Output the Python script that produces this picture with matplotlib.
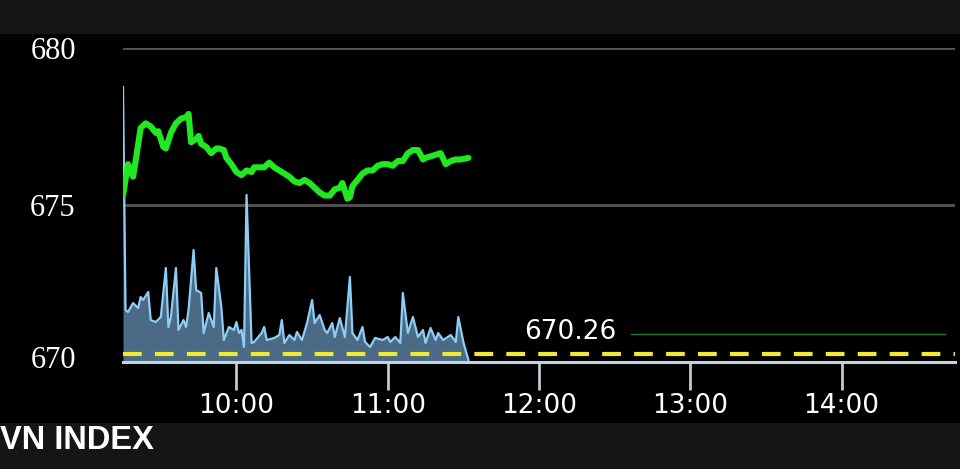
import matplotlib
matplotlib.use('Agg')
import matplotlib.pyplot as plt
from matplotlib.patches import Rectangle
from matplotlib.transforms import ScaledTranslation

# Phút kể từ 9:15 và giá trị chỉ số
price_t = [0, 2, 4, 5, 7, 9, 11, 13, 14, 16,
           17, 19, 21, 23, 25, 26, 27, 29, 30, 31,
           33, 35, 37, 38, 40, 41, 43, 45, 47, 49,
           51, 52, 53, 56, 58, 60, 62, 64, 66, 68,
           70, 72, 74, 76, 78, 80, 82, 84, 86, 87,
           89, 90, 91, 93, 95, 97, 99, 101, 103, 105,
           107, 109, 111, 113, 115, 117, 119, 120, 122, 124,
           126, 128, 130, 132, 134, 137]
price = [675.3, 676.3, 675.9, 676.4, 677.45, 677.6, 677.5, 677.3, 677.35, 676.85,
         676.8, 677.3, 677.6, 677.75, 677.8, 677.9, 677.0, 677.1, 677.2, 676.95,
         676.85, 676.65, 676.8, 676.8, 676.75, 676.5, 676.3, 676.05, 675.95, 676.1,
         676.05, 676.2, 676.2, 676.2, 676.35, 676.2, 676.1, 676.0, 675.9, 675.75,
         675.7, 675.8, 675.7, 675.55, 675.4, 675.3, 675.3, 675.5, 675.55, 675.7,
         675.2, 675.25, 675.6, 675.8, 676.0, 676.1, 676.1, 676.25, 676.3, 676.3,
         676.25, 676.4, 676.4, 676.65, 676.75, 676.75, 676.45, 676.5, 676.55, 676.6,
         676.65, 676.3, 676.4, 676.45, 676.45, 676.5]

# Khối lượng (đơn vị tương đối)
vol_t = [0, 1, 2, 4, 6, 7, 8, 10, 11, 13,
         15, 17, 18, 19, 21, 22, 24, 25, 26, 28,
         29, 31, 32, 34, 36, 37, 39, 40, 42, 44,
         45, 46, 47, 48, 49, 51, 52, 55, 56, 57,
         60, 62, 63, 64, 66, 68, 69, 71, 73, 75,
         76, 78, 80, 81, 83, 84, 86, 88, 90, 91,
         93, 95, 96, 98, 100, 103, 105, 106, 108, 110,
         111, 113, 115, 117, 119, 120, 122, 124, 125, 127,
         130, 132, 133, 135, 137]
vol = [275, 52, 50, 59, 54, 65, 62, 70, 42, 40,
       45, 94, 35, 45, 94, 32, 42, 35, 52, 112,
       72, 69, 29, 49, 35, 94, 55, 22, 35, 32,
       40, 29, 32, 15, 167, 19, 20, 29, 35, 22,
       24, 27, 42, 19, 27, 22, 30, 22, 39, 62,
       39, 47, 32, 29, 39, 25, 44, 25, 85, 29,
       22, 35, 20, 15, 24, 22, 25, 20, 25, 19,
       69, 29, 45, 25, 32, 19, 34, 22, 29, 22,
       27, 20, 45, 20, 2]

ref_price = 670.26
hour_ticks = [45, 105, 165, 225, 285]
hour_labels = ['10:00', '11:00', '12:00', '13:00', '14:00']
y_ticks = [670, 675, 680]

fig = plt.figure(figsize=(9.6, 4.69), dpi=100, facecolor='black')
# dải xám trên và dưới
fig.patches.append(Rectangle((0, 1 - 34/469), 1, 34/469, transform=fig.transFigure,
                             facecolor='#151515', edgecolor='none', zorder=0))
fig.patches.append(Rectangle((0, 0), 1, 46/469, transform=fig.transFigure,
                             facecolor='#151515', edgecolor='none', zorder=0))

rect = [123/960, 1 - 362/469, 832/960, 314/469]
ax = fig.add_axes(rect)
ax.set_facecolor('black')
axv = ax.twinx()
axp = ax.twinx()

ax.set_xlim(0, 330)
ax.set_ylim(670, 680)
axp.set_ylim(670, 680)
axv.set_ylim(0, 314)

# lưới
ax.set_yticks(y_ticks)
ax.set_yticklabels([str(v) for v in y_ticks], family='Liberation Serif', fontsize=22, color='white')
ax.grid(axis='y', color='#555555', linewidth=2)
ax.tick_params(axis='y', length=0, pad=34)
lab = ax.get_yticklabels()[0]
lab.set_transform(lab.get_transform() + ScaledTranslation(0, 5/100, fig.dpi_scale_trans))

ax.set_xticks(hour_ticks)
ax.set_xticklabels(hour_labels, family='DejaVu Sans', fontsize=19, color='white')
ax.tick_params(axis='x', length=20, width=2, color='#c0c8d0', pad=2)
for s in ax.spines.values():
    s.set_visible(False)
for s in axv.spines.values():
    s.set_visible(False)
for s in axp.spines.values():
    s.set_visible(False)
axv.set_yticks([])
axp.set_yticks([])

# khối lượng
axv.fill_between(vol_t, 0, vol, color='#4a6a86', linewidth=0)
axv.plot(vol_t, vol, color='#8ecdf5', linewidth=1.6)

# giá
plt.rcParams['lines.scale_dashes'] = False
axp.axhline(ref_price, color='#f2ea2e', linewidth=3, dashes=(13.5, 9.5))
axp.plot(price_t, price, color='#22e822', linewidth=4.4, solid_joinstyle='round',
         solid_capstyle='round')
axp.plot([0.611, 0.988], [0.09, 0.09], transform=axp.transAxes, color='#2a7a2a', linewidth=1)
axp.text(0.537, 0.095, f'{ref_price:.2f}', transform=axp.transAxes, ha='center', va='center',
         fontsize=19, color='white', family='DejaVu Sans')

axp.spines['bottom'].set_visible(True)
axp.spines['bottom'].set_color('#c9d1d9')
axp.spines['bottom'].set_linewidth(2.2)

fig.text(0.0, 1 - 440/469, 'VN INDEX', family='Liberation Sans', weight='bold',
         fontsize=23.5, color='white', ha='left', va='center')

fig.savefig('out.png', dpi=100, facecolor='black')
